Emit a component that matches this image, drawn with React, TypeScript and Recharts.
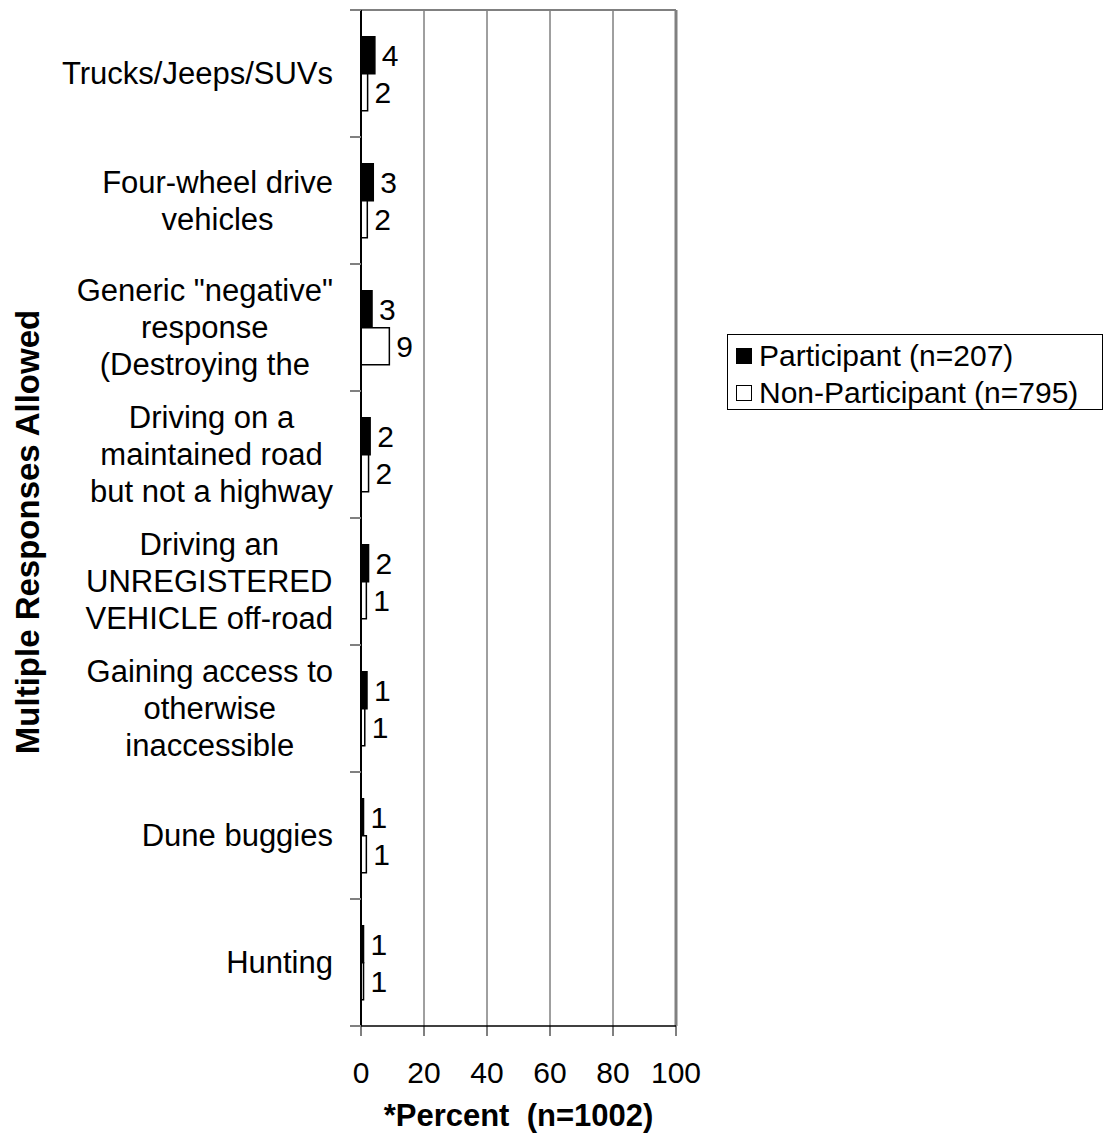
import React from 'react'
import {
  BarChart,
  Bar,
  XAxis,
  YAxis,
  CartesianGrid,
  Legend,
  LabelList,
  ReferenceLine,
  Label
} from 'recharts'

const FONT = '"Liberation Sans", Arial, sans-serif'

// category labels, wrapped/truncated the way the original shows them
const categories = [
  'Trucks/Jeeps/SUVs',
  'Four-wheel drive\nvehicles',
  'Generic "negative"\nresponse\n(Destroying the',
  'Driving on a\nmaintained road\nbut not a highway',
  'Driving an\nUNREGISTERED\nVEHICLE off-road',
  'Gaining access to\notherwise\ninaccessible',
  'Dune buggies',
  'Hunting'
]

const participant = [4.4, 3.9, 3.5, 2.9, 2.4, 1.9, 0.8, 0.8]
const nonParticipant = [2.1, 2.0, 9.0, 2.4, 1.7, 1.2, 1.7, 0.8]
const participantLabels = [4, 3, 3, 2, 2, 1, 1, 1]
const nonParticipantLabels = [2, 2, 9, 2, 1, 1, 1, 1]
const xTicks = [0, 20, 40, 60, 80, 100]

const series = [
  { key: 'participant', label: 'pLabel', name: 'Participant (n=207)', fill: '#000000' },
  { key: 'nonParticipant', label: 'npLabel', name: 'Non-Participant (n=795)', fill: '#ffffff' }
]

const data = categories.map((name, i) => ({
  name,
  participant: participant[i],
  nonParticipant: nonParticipant[i],
  pLabel: participantLabels[i],
  npLabel: nonParticipantLabels[i]
}))

let ctx: CanvasRenderingContext2D | null = null
function textWidth(s: string, size: number) {
  if (!ctx) ctx = document.createElement('canvas').getContext('2d')
  if (!ctx) return s.length * size * 0.5
  ctx.font = `${size}px "Liberation Sans"`
  return ctx.measureText(s).width
}

const CAT_SIZE = 31
const LINE_H = 37

function CategoryTick(props: any) {
  const { x, y, payload, index } = props
  const lines = String(payload.value).split('\n')
  const half = payload.offset || 63.5
  const axisX = x + 28
  const maxW = Math.max(...lines.map((l) => textWidth(l, CAT_SIZE)))
  const cx = x - maxW / 2
  const y0 = y - ((lines.length - 1) * LINE_H) / 2 + CAT_SIZE * 0.35
  const last = index === categories.length - 1
  return (
    <g>
      <line x1={axisX - 11} x2={axisX} y1={y - half} y2={y - half} stroke='#808080' strokeWidth={2} />
      {last && (
        <line x1={axisX - 11} x2={axisX} y1={y + half} y2={y + half} stroke='#808080' strokeWidth={2} />
      )}
      <text textAnchor='middle' fontFamily={FONT} fontSize={CAT_SIZE} fill='#000'>
        {lines.map((l, i) => (
          <tspan key={i} x={cx} y={y0 + i * LINE_H}>
            {l}
          </tspan>
        ))}
      </text>
    </g>
  )
}

function LegendBox() {
  return (
    <div
      style={{
        border: '1px solid #000',
        boxSizing: 'border-box',
        width: 376,
        height: 76,
        padding: '2px 0 0 8px',
        fontFamily: FONT,
        fontSize: 30,
        color: '#000',
        background: '#fff'
      }}
    >
      {series.map((s) => (
        <div key={s.key} style={{ display: 'flex', alignItems: 'center', height: 37 }}>
          <span
            style={{
              display: 'inline-block',
              width: 16,
              height: 16,
              boxSizing: 'border-box',
              background: s.fill,
              border: '1.5px solid #000',
              marginRight: 7
            }}
          />
          <span style={{ whiteSpace: 'nowrap' }}>{s.name}</span>
        </div>
      ))}
    </div>
  )
}

export default function App() {
  return (
    <BarChart
      width={1100}
      height={1130}
      data={data}
      layout='vertical'
      margin={{ top: 2, right: 432, left: 0, bottom: 12 }}
      barCategoryGap='21%'
      barGap={0}
    >
      <CartesianGrid horizontal={false} stroke='#404040' strokeWidth={1} />
      <CartesianGrid
        vertical={false}
        stroke='#808080'
        strokeWidth={2}
        horizontalCoordinatesGenerator={(p: any) => [p.offset.top]}
      />
      <ReferenceLine x={100} stroke='#808080' strokeWidth={3} />
      <XAxis
        type='number'
        domain={[0, 100]}
        ticks={xTicks}
        height={100}
        tickSize={10}
        tickMargin={26}
        stroke='#000'
        axisLine={{ stroke: '#000', strokeWidth: 1.5 }}
        tickLine={{ stroke: '#000', strokeWidth: 1 }}
        tick={{ fill: '#000', fontSize: 30, fontFamily: FONT }}
      >
        <Label
          content={(p: any) => {
            const vb = p.viewBox || { x: 353, y: 1018, width: 315 }
            return (
              <text
                x={vb.x + vb.width / 2}
                y={vb.y + 89}
                dy='0.35em'
                textAnchor='middle'
                fontFamily={FONT}
                fontWeight='bold'
                fontSize={31}
                fill='#000'
                style={{ whiteSpace: 'pre' }}
              >
                {'*Percent  (n=1002)'}
              </text>
            )
          }}
        />
      </XAxis>
      <YAxis
        type='category'
        dataKey='name'
        width={353}
        interval={0}
        tickLine={false}
        tickSize={0}
        tickMargin={28}
        axisLine={{ stroke: '#000', strokeWidth: 2 }}
        tick={<CategoryTick />}
      >
        <Label
          content={() => (
            <text
              x={19}
              y={524}
              dy='0.35em'
              textAnchor='middle'
              fontFamily={FONT}
              fontWeight='bold'
              fontSize={33}
              fill='#000'
              transform='rotate(-90 19 524)'
            >
              Multiple Responses Allowed
            </text>
          )}
        />
      </YAxis>
      <Legend
        layout='vertical'
        align='center'
        verticalAlign='middle'
        wrapperStyle={{ left: 719, top: 326, width: 376, height: 76 }}
        content={() => <LegendBox />}
      />
      {series.map((s) => (
        <Bar
          key={s.key}
          dataKey={s.key}
          name={s.name}
          fill={s.fill}
          stroke='#000'
          strokeWidth={1.5}
          isAnimationActive={false}
        >
          <LabelList
            dataKey={s.label}
            position='right'
            offset={7}
            fill='#000'
            fontSize={30}
            fontFamily={FONT}
          />
        </Bar>
      ))}
    </BarChart>
  )
}
